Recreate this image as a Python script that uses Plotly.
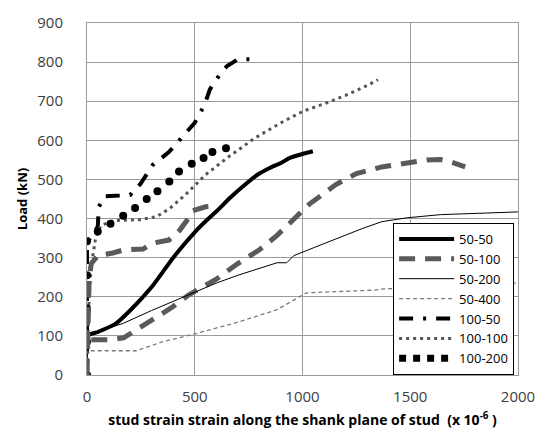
import plotly.graph_objects as go

# ---- data (strain x 10^-6, load kN) ----
s50_50_x = [0, 0, 50, 130, 200, 300, 400, 505, 564, 600, 668, 730, 791, 850, 900, 941, 1000, 1048]
s50_50_y = [0, 100, 110, 130, 165, 225, 300, 368, 400, 418, 455, 485, 512, 530, 542, 555, 565, 572]

s50_100_x = [20, 100, 170, 300, 400, 473, 600, 700, 800, 882, 960, 1032, 1155, 1250, 1368, 1480, 1577, 1640, 1686, 1755]
s50_100_y = [90, 90, 95, 140, 175, 205, 245, 285, 320, 357, 400, 437, 487, 515, 532, 542, 550, 551, 545, 532]

s50_100b_x = [0, 5, 10, 20, 50, 120, 170, 260, 305, 380, 430, 470, 490, 550, 600]
s50_100b_y = [0, 150, 250, 285, 305, 312, 320, 322, 337, 345, 370, 400, 420, 430, 432]

s50_200_x = [0, 0, 100, 168, 300, 473, 600, 700, 800, 882, 927, 959, 1050, 1186, 1280, 1368, 1486, 1641, 1800, 2000]
s50_200_y = [0, 100, 120, 132, 165, 205, 235, 255, 272, 287, 287, 305, 325, 355, 375, 392, 402, 410, 413, 417]

s50_400_x = [0, 0, 230, 350, 500, 700, 882, 986, 1018, 1150, 1336, 1375, 1600, 1800, 1990]
s50_400_y = [0, 62, 62, 85, 105, 135, 167, 200, 210, 213, 217, 220, 225, 230, 235]

s100_50_x = [0, 0, 30, 50, 55, 80, 130, 200, 250, 305, 380, 441, 500, 545, 570, 618, 650, 700, 773]
s100_50_y = [0, 340, 360, 380, 430, 457, 458, 460, 490, 537, 570, 607, 645, 690, 730, 770, 790, 807, 807]

s100_100_x = [0, 5, 10, 20, 40, 64, 123, 245, 323, 382, 459, 550, 650, 777, 900, 1005, 1109, 1200, 1300, 1350]
s100_100_y = [0, 100, 200, 280, 350, 382, 395, 397, 405, 425, 462, 512, 555, 605, 645, 675, 695, 715, 740, 755]

s100_200_x = [0, 0, 0, 0, 0, 50, 109, 168, 223, 277, 327, 382, 427, 486, 541, 582, 645]
s100_200_y = [0, 85, 170, 255, 342, 367, 387, 407, 427, 450, 470, 495, 520, 540, 555, 570, 580]

x_ticks = [0, 500, 1000, 1500, 2000]
y_ticks = [0, 100, 200, 300, 400, 500, 600, 700, 800, 900]

FONT = "Open Sans"
fig = go.Figure()

fig.add_trace(go.Scatter(x=s50_50_x, y=s50_50_y, mode="lines", name="50-50",
                         line=dict(color="#000000", width=4, shape="spline", smoothing=0.6)))
fig.add_trace(go.Scatter(x=s50_100_x, y=s50_100_y, mode="lines", name="50-100",
                         line=dict(color="#5a5a5a", width=5, dash="16px,10px")))
fig.add_trace(go.Scatter(x=s50_200_x, y=s50_200_y, mode="lines", name="50-200",
                         line=dict(color="#000000", width=1)))
fig.add_trace(go.Scatter(x=s50_400_x, y=s50_400_y, mode="lines", name="50-400",
                         line=dict(color="#7a7a7a", width=1.3, dash="4px,3px")))
fig.add_trace(go.Scatter(x=s100_50_x, y=s100_50_y, mode="lines", name="100-50",
                         line=dict(color="#000000", width=4, dash="14px,10px,3px,10px")))
fig.add_trace(go.Scatter(x=s100_100_x, y=s100_100_y, mode="lines", name="100-100",
                         line=dict(color="#555555", width=3, dash="3px,4px")))
fig.add_trace(go.Scatter(x=s100_200_x, y=s100_200_y, mode="markers", name="100-200",
                         legendgroup="g7", showlegend=False,
                         marker=dict(color="#000000", size=8)))
fig.add_trace(go.Scatter(x=[None], y=[None], mode="lines", name="100-200",
                         legendgroup="g7",
                         line=dict(color="#000000", width=7, dash="7px,7px")))
fig.add_trace(go.Scatter(x=s50_100b_x, y=s50_100b_y, mode="lines", name="50-100 (upper)",
                         showlegend=False,
                         line=dict(color="#5a5a5a", width=5, dash="16px,10px")))

axis_common = dict(showgrid=True, gridcolor="#9a9a9a", gridwidth=1,
                   showline=True, linecolor="#9a9a9a", linewidth=1, mirror=True,
                   zeroline=False, ticks="",
                   tickfont=dict(family=FONT, size=15, color="#404040"))

fig.update_xaxes(range=[0, 2000], tickvals=x_ticks, ticklabelstandoff=8,
                 title=dict(text="stud strain strain along the shank plane of stud  (x 10<sup>-6</sup> )",
                            font=dict(family=FONT, size=14, color="#000000", weight="bold"),
                            standoff=10),
                 **axis_common)
fig.update_yaxes(range=[0, 900], tickvals=y_ticks, ticklabelstandoff=20,
                 title=dict(text="Load (kN)",
                            font=dict(family=FONT, size=13, color="#000000", weight="bold"),
                            standoff=6),
                 **axis_common)

fig.update_layout(
    width=547, height=441,
    margin=dict(l=87, r=20, t=15, b=66),
    paper_bgcolor="white", plot_bgcolor="white",
    font=dict(family=FONT),
    legend=dict(x=0.991, y=0.432, xanchor="right", yanchor="top",
                bgcolor="white", bordercolor="#000000", borderwidth=1,
                font=dict(family=FONT, size=13, color="#000000"),
                tracegroupgap=0, itemwidth=55),
)

fig.write_html("out.html")
